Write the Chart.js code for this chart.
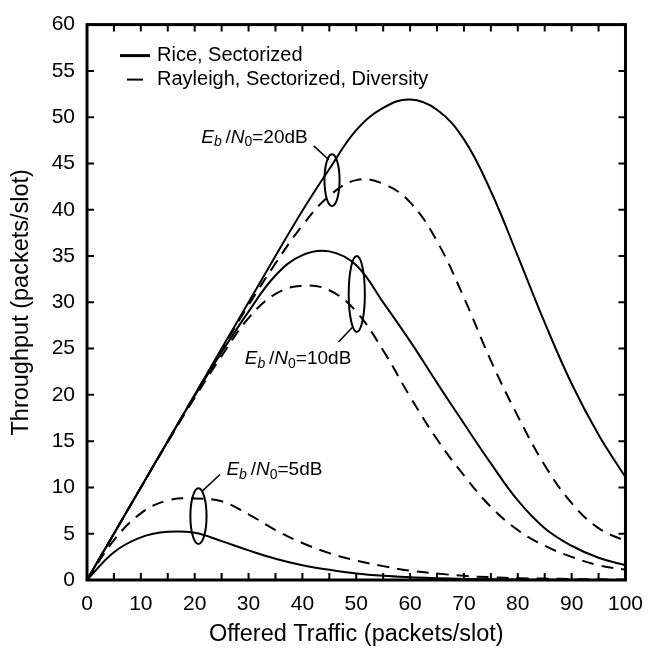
<!DOCTYPE html>
<html>
<head>
<meta charset="utf-8">
<script src="https://cdn.jsdelivr.net/npm/chart.js@4/dist/chart.umd.min.js"></script>
<style>
  html, body { margin: 0; padding: 0; background: #fff; }
  canvas { display: block; }
</style>
</head>
<body>
<canvas id="chart" width="655" height="653"></canvas>
<script>
// Offered traffic (packets/slot), x values shared by every curve
const traffic = [0, 5, 10, 15, 20, 25, 30, 35, 40, 45, 50, 55, 60, 65, 70, 75, 80, 85, 90, 95, 100];

// Throughput (packets/slot)
const rice20 = [0, 5, 10, 15, 20, 25, 30, 35, 39.9, 44.4, 48.6, 51.0, 51.9, 50.8, 47.6, 42.0, 35.0, 27.8, 21.2, 15.7, 11.1];
const ray20  = [0, 5, 10, 15, 20, 24.9, 29.7, 34.2, 38.3, 41.5, 43.2, 42.8, 40.8, 36.6, 30.5, 23.7, 17.7, 12.4, 8.3, 5.6, 4.2];
const rice10 = [0, 5, 10, 15, 19.9, 24.6, 29.0, 32.9, 35.1, 35.5, 34.0, 30.0, 25.8, 21.3, 16.9, 12.6, 8.6, 5.6, 3.7, 2.4, 1.6];
const ray10  = [0, 5, 10, 14.9, 19.7, 24.2, 28.3, 30.9, 31.8, 31.3, 29.0, 24.8, 19.8, 15.2, 11.3, 7.9, 5.4, 3.7, 2.5, 1.6, 1.1];
const rice5  = [0, 3.0, 4.6, 5.2, 5.1, 4.2, 3.2, 2.3, 1.6, 1.1, 0.7, 0.45, 0.3, 0.2, 0.12, 0.08, 0.05, 0.03, 0.02, 0.01, 0];
const ray5   = [0, 4.3, 7.2, 8.6, 8.8, 8.5, 7.1, 5.4, 4.0, 2.9, 2.1, 1.5, 1.0, 0.7, 0.45, 0.3, 0.2, 0.15, 0.1, 0.07, 0.05];

// Axis ticks
const xTicks = [0, 10, 20, 30, 40, 50, 60, 70, 80, 90, 100];
const yTicks = [0, 5, 10, 15, 20, 25, 30, 35, 40, 45, 50, 55, 60];

// Legend entries
const legendNames = ['Rice, Sectorized', 'Rayleigh, Sectorized, Diversity'];

// Ellipse annotations: centre (data units), half widths (data units), label value
const groupSnr = ['20', '10', '5'];
const ellipseX = [45.5, 50.1, 20.7];
const ellipseY = [43.2, 30.9, 6.9];
const ellipseRx = [1.4, 1.5, 1.5];
const ellipseRy = [2.8, 4.1, 3.0];
// Label centre and leader line (data units)
const labelX = [31.1, 39.2, 34.8];
const labelY = [47.8, 23.9, 11.9];
const leaderFrom = [[42.1, 46.9], [46.7, 25.7], [24.7, 11.4]];
const leaderTo = [[44.9, 45.4], [49.3, 27.3], [21.4, 9.6]];

const FONT = '"Liberation Sans", Arial, Helvetica, sans-serif';

function pts(ys) {
    return traffic.map((x, i) => ({ x: x, y: ys[i] }));
}

function curve(label, ys, dashed) {
    return {
        label: label,
        data: pts(ys),
        borderColor: '#000',
        borderWidth: 2,
        borderDash: dashed ? [12, 8] : [],
        pointRadius: 0,
        tension: 0.4,
        fill: false,
    };
}

// Frame with inward ticks, drawn through the scales
const framePlugin = {
    id: 'frame',
    afterDatasetsDraw(chart) {
        const { ctx, chartArea: a, scales: { x, y } } = chart;
        ctx.save();
        ctx.strokeStyle = '#000';
        ctx.lineWidth = 2;
        const len = 7;
        for (let v = 0; v <= 100; v += 5) {
            const px = x.getPixelForValue(v);
            ctx.beginPath();
            ctx.moveTo(px, a.bottom); ctx.lineTo(px, a.bottom - len);
            ctx.moveTo(px, a.top); ctx.lineTo(px, a.top + len);
            ctx.stroke();
        }
        for (const v of yTicks) {
            const py = y.getPixelForValue(v);
            ctx.beginPath();
            ctx.moveTo(a.left, py); ctx.lineTo(a.left + len, py);
            ctx.moveTo(a.right, py); ctx.lineTo(a.right - len, py);
            ctx.stroke();
        }
        ctx.lineWidth = 3;
        ctx.strokeRect(a.left, a.top, a.right - a.left, a.bottom - a.top);
        ctx.restore();
    }
};

// Legend in the upper left corner of the plot
const legendPlugin = {
    id: 'cornerLegend',
    afterDatasetsDraw(chart) {
        const { ctx, chartArea: a } = chart;
        ctx.save();
        ctx.strokeStyle = '#000';
        ctx.fillStyle = '#000';
        ctx.font = '20px ' + FONT;
        ctx.textBaseline = 'middle';
        const y0 = a.top + 31, y1 = a.top + 55;
        ctx.lineWidth = 3;
        ctx.beginPath(); ctx.moveTo(a.left + 33, y0); ctx.lineTo(a.left + 63, y0); ctx.stroke();
        ctx.lineWidth = 2;
        ctx.beginPath(); ctx.moveTo(a.left + 40, y1); ctx.lineTo(a.left + 56, y1); ctx.stroke();
        ctx.fillText(legendNames[0], a.left + 70, y0);
        ctx.fillText(legendNames[1], a.left + 70, y1);
        ctx.restore();
    }
};

// Draws "Eb/N0=..dB" with italic letters and subscripts, centred at (cx, cy)
function drawSnr(ctx, cx, cy, snr) {
    const size = 19;
    const sub = Math.round(size * 0.72);
    const parts = [
        { t: 'E', f: 'italic ' + size + 'px ' + FONT, dy: 0 },
        { t: 'b', f: 'italic ' + sub + 'px ' + FONT, dy: 5 },
        { t: '\u2009/', f: size + 'px ' + FONT, dy: 0 },
        { t: 'N', f: 'italic ' + size + 'px ' + FONT, dy: 0 },
        { t: '0', f: sub + 'px ' + FONT, dy: 5 },
        { t: '=' + snr + 'dB', f: size + 'px ' + FONT, dy: 0 },
    ];
    let w = 0;
    for (const p of parts) { ctx.font = p.f; p.w = ctx.measureText(p.t).width; w += p.w; }
    let x = cx - w / 2;
    ctx.textBaseline = 'middle';
    ctx.textAlign = 'left';
    for (const p of parts) {
        ctx.font = p.f;
        ctx.fillText(p.t, x, cy + p.dy);
        x += p.w;
    }
}

const annotatePlugin = {
    id: 'snrGroups',
    afterDatasetsDraw(chart) {
        const { ctx, scales: { x, y } } = chart;
        ctx.save();
        ctx.strokeStyle = '#000';
        ctx.fillStyle = '#000';
        for (let i = 0; i < groupSnr.length; i++) {
            const cx = x.getPixelForValue(ellipseX[i]);
            const cy = y.getPixelForValue(ellipseY[i]);
            const rx = x.getPixelForValue(ellipseX[i] + ellipseRx[i]) - cx;
            const ry = cy - y.getPixelForValue(ellipseY[i] + ellipseRy[i]);
            ctx.lineWidth = 2;
            ctx.beginPath();
            ctx.ellipse(cx, cy, rx, ry, 0, 0, Math.PI * 2);
            ctx.stroke();
            ctx.lineWidth = 1.5;
            ctx.beginPath();
            ctx.moveTo(x.getPixelForValue(leaderFrom[i][0]), y.getPixelForValue(leaderFrom[i][1]));
            ctx.lineTo(x.getPixelForValue(leaderTo[i][0]), y.getPixelForValue(leaderTo[i][1]));
            ctx.stroke();
            drawSnr(ctx, x.getPixelForValue(labelX[i]), y.getPixelForValue(labelY[i]), groupSnr[i]);
        }
        ctx.restore();
    }
};

new Chart(document.getElementById('chart'), {
    type: 'line',
    data: {
        datasets: [
            curve('Rice, Sectorized 20dB', rice20, false),
            curve('Rayleigh, Sectorized, Diversity 20dB', ray20, true),
            curve('Rice, Sectorized 10dB', rice10, false),
            curve('Rayleigh, Sectorized, Diversity 10dB', ray10, true),
            curve('Rice, Sectorized 5dB', rice5, false),
            curve('Rayleigh, Sectorized, Diversity 5dB', ray5, true),
        ],
    },
    options: {
        responsive: false,
        animation: false,
        layout: { padding: { top: 15, right: 22, left: 0, bottom: 0 } },
        plugins: {
            legend: { display: false },
            tooltip: { enabled: false },
        },
        scales: {
            x: {
                type: 'linear',
                min: 0,
                max: 100,
                afterBuildTicks: (s) => { s.ticks = xTicks.map(v => ({ value: v })); },
                afterFit: (s) => { s.height = 73; },
                grid: { display: false, drawTicks: false },
                border: { display: false },
                ticks: { color: '#000', padding: 12, maxRotation: 0, font: { family: FONT, size: 21 } },
                title: {
                    display: true,
                    text: 'Offered Traffic (packets/slot)',
                    color: '#000',
                    font: { family: FONT, size: 23.5 },
                    padding: { top: 0, bottom: 4 },
                },
            },
            y: {
                min: 0,
                max: 60,
                afterBuildTicks: (s) => { s.ticks = yTicks.map(v => ({ value: v })); },
                afterFit: (s) => { s.width = 87; },
                grid: { display: false, drawTicks: false },
                border: { display: false },
                ticks: { color: '#000', padding: 12, font: { family: FONT, size: 21 } },
                title: {
                    display: true,
                    text: 'Throughput (packets/slot)',
                    color: '#000',
                    font: { family: FONT, size: 23.5 },
                    padding: { top: 7, bottom: 0 },
                },
            },
        },
    },
    plugins: [framePlugin, legendPlugin, annotatePlugin],
});
</script>
</body>
</html>
